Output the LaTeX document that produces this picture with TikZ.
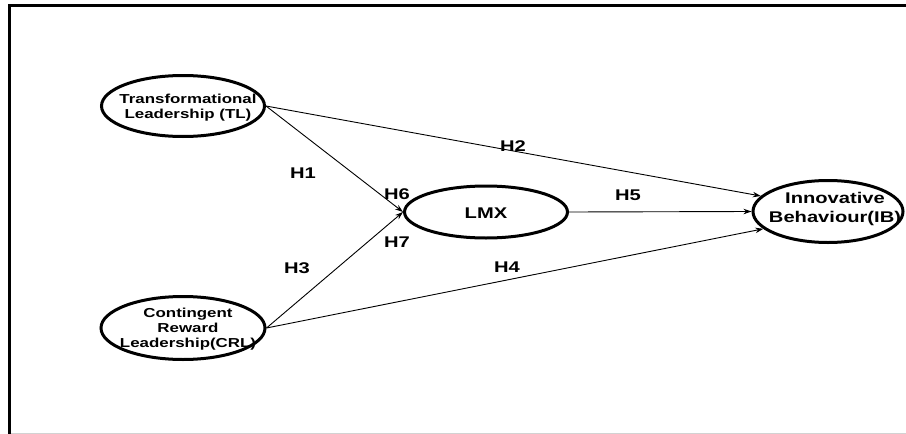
\documentclass[tikz,border=0pt]{standalone}
\usepackage{fontspec}
\newfontfamily\lbf[FakeStretch=1.3]{Liberation Sans}
\usetikzlibrary{shapes.geometric,arrows.meta}
\tikzset{
  construct/.style={draw=black, line width=3pt, ellipse, inner sep=0pt},
  smalltxt/.style={align=center, inner sep=0pt, font=\lbf\bfseries\fontsize{13}{15}\selectfont},
  bigtxt/.style={align=center, inner sep=0pt, font=\lbf\bfseries\fontsize{15.5}{19}\selectfont},
  hlabel/.style={inner sep=0pt, font=\lbf\bfseries\fontsize{15.5}{19}\selectfont},
  path/.style={draw=black, line width=0.9pt, -{Stealth[length=8pt,width=5.5pt]}},
}
\begin{document}
\begin{tikzpicture}[x=1pt,y=-1pt]
\useasboundingbox (0,0) rectangle (906,434);
% frame
\draw[gray!35, line width=1pt] (9,433) -- (906,433);
\draw[black, line width=3pt] (9,434) -- (9,5.5) -- (906,5.5);
% constructs
\node[construct, minimum width=163pt, minimum height=61pt] (tl) at (183,106) {};
\node[construct, minimum width=164pt, minimum height=63pt] (crl) at (183,328) {};
\node[construct, minimum width=163pt, minimum height=52pt] (lmx) at (486,212) {};
\node[construct, minimum width=150pt, minimum height=62pt] (ib) at (828,211.5) {};
% texts
\node[smalltxt] (tlt) at (188,108) {Transformational\\Leadership (TL)};
\node[smalltxt] (crlt) at (188,329) {Contingent\\Reward\\Leadership(CRL)};
\node[bigtxt] (lmxt) at (486,213) {LMX};
\node[bigtxt] (ibt) at (835,209) {Innovative\\Behaviour(IB)};
% paths
\draw[path] (tl.east) -- (lmx.west);
\draw[path] (crl.east) -- (lmx.west);
\draw[path] (tl.east) -- (ib.167);
\draw[path] (crl.east) -- (ib.195);
\draw[path] (lmx.east) -- (ib.west);
% labels
\node[hlabel] (h1) at (303,173) {H1};
\node[hlabel] (h2) at (513,146) {H2};
\node[hlabel] (h3) at (297,268) {H3};
\node[hlabel] (h4) at (507,267) {H4};
\node[hlabel] (h5) at (628,195) {H5};
\node[hlabel] (h6) at (397,194) {H6};
\node[hlabel] (h7) at (397,242) {H7};
\end{tikzpicture}
\end{document}
